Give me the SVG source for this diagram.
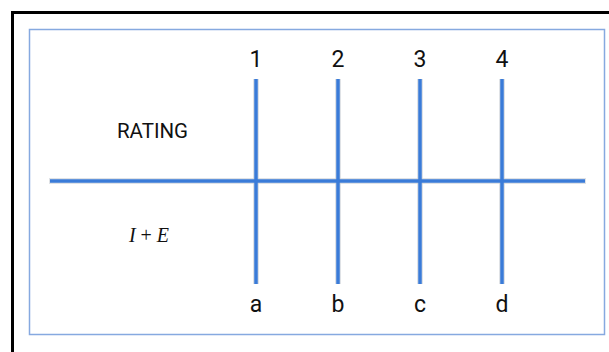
<svg xmlns="http://www.w3.org/2000/svg" width="609" height="352" viewBox="0 0 609 352">
  <style>
    .lbl { font-family: Roboto, "Liberation Sans", sans-serif; font-size: 23px; fill: #111111; text-anchor: middle; }
    .rating { font-family: Roboto, "Liberation Sans", sans-serif; font-size: 20.5px; fill: #111111; text-anchor: middle; }
    .math { font-family: "Liberation Serif", "DejaVu Serif", serif; font-size: 20px; fill: #111111; text-anchor: middle; }
    .halo { stroke: #c9ced6; stroke-width: 6; fill: none; }
    .ln { stroke: #3a7bd8; stroke-width: 3.5; fill: none; }
  </style>
  <rect width="609" height="352" fill="#ffffff"/>
  <path d="M12.5 352 V12.5 H609" fill="none" stroke="#000000" stroke-width="3"/>
  <rect x="29.5" y="29.5" width="575" height="305" fill="none" stroke="#86a9e0" stroke-width="1.5"/>
  <g id="connectors">
    <line class="halo" x1="49" y1="181" x2="586" y2="181" opacity="0.6"/>
    <line class="halo" x1="256" y1="79" x2="256" y2="284" opacity="0.6"/>
    <line class="halo" x1="338" y1="79" x2="338" y2="284" opacity="0.6"/>
    <line class="halo" x1="420" y1="79" x2="420" y2="284" opacity="0.6"/>
    <line class="halo" x1="502" y1="79" x2="502" y2="284" opacity="0.6"/>
    <line class="ln" x1="50" y1="181" x2="585" y2="181"/>
    <line class="ln" x1="256" y1="79" x2="256" y2="284"/>
    <line class="ln" x1="338" y1="79" x2="338" y2="284"/>
    <line class="ln" x1="420" y1="79" x2="420" y2="284"/>
    <line class="ln" x1="502" y1="79" x2="502" y2="284"/>
  </g>
  <g id="rating"><text class="rating" x="152.5" y="138">RATING</text></g>
  <g id="ie"><text class="math" x="149" y="242" xml:space="preserve"><tspan font-style="italic">I</tspan> + <tspan font-style="italic">E</tspan></text></g>
  <g id="n1"><text class="lbl" x="256" y="67">1</text></g>
  <g id="n2"><text class="lbl" x="338" y="67">2</text></g>
  <g id="n3"><text class="lbl" x="420" y="67">3</text></g>
  <g id="n4"><text class="lbl" x="502" y="67">4</text></g>
  <g id="na"><text class="lbl" x="256" y="312">a</text></g>
  <g id="nb"><text class="lbl" x="338" y="312">b</text></g>
  <g id="nc"><text class="lbl" x="420" y="312">c</text></g>
  <g id="nd"><text class="lbl" x="502" y="312">d</text></g>
</svg>
